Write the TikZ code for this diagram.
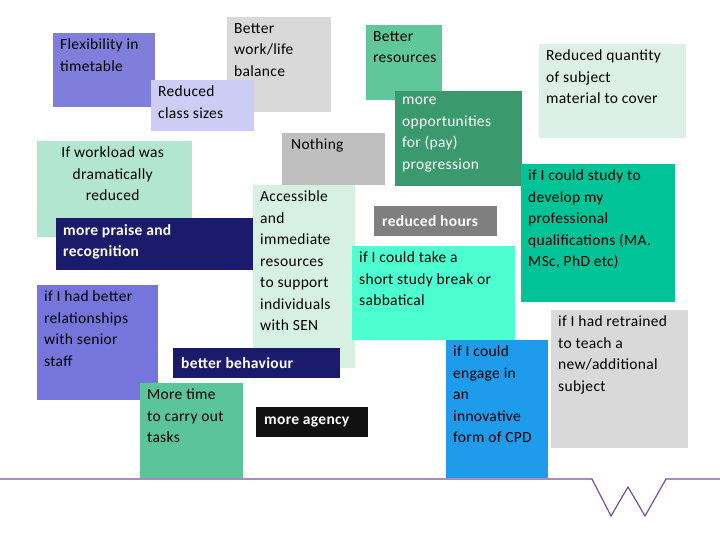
\documentclass[tikz,border=0pt]{standalone}
\usepackage{fontspec}
\setmainfont{Carlito}[LetterSpace=2]
\usetikzlibrary{positioning}

\definecolor{flexcol}{HTML}{7F7FDB}
\definecolor{lightgray}{HTML}{D9D9D9}
\definecolor{lavender}{HTML}{CCCCF5}
\definecolor{midgreen}{HTML}{60C79B}
\definecolor{darkgreen}{HTML}{3A9A6E}
\definecolor{palemint}{HTML}{DDF0E8}
\definecolor{nothinggray}{HTML}{BFBFBF}
\definecolor{mint}{HTML}{B3E6D0}
\definecolor{senmint}{HTML}{D6F0E4}
\definecolor{hoursgray}{HTML}{7F7F7F}
\definecolor{teal}{HTML}{00C497}
\definecolor{navy}{HTML}{1B1B6B}
\definecolor{aqua}{HTML}{4DFFD0}
\definecolor{seniorcol}{HTML}{7575DB}
\definecolor{timegreen}{HTML}{5CC49A}
\definecolor{nearblack}{HTML}{111111}
\definecolor{cpdblue}{HTML}{1E9BEA}
\definecolor{wline}{HTML}{7B4F9A}

\tikzset{
  card/.style={draw=none,inner sep=0pt,anchor=north west},
  cardtext/.style={inner sep=0pt,anchor=north west,align=left,
    font=\fontsize{15.5}{21.5}\selectfont},
}
% \card{name}{x}{y}{w}{h}{fill}{text colour}{text}
\newcommand\card[8]{%
  \node[card,fill=#6,minimum width=#4pt,minimum height=#5pt] (#1) at (#2,#3) {};
  \node[cardtext,text=#7] (#1-t) at ([xshift=7pt,yshift=-6pt]#1.north west) {#8};
}
% tarjeta fina con una sola linea en negrita
\newcommand\slim[7]{%
  \node[card,fill=#6,minimum width=#4pt,minimum height=#5pt] (#1) at (#2,#3) {};
  \node[cardtext,anchor=west,text=#7,font=\fontsize{15.5}{21.5}\selectfont\bfseries] (#1-t) at ([xshift=7pt]#1.west) {#1-label};
}

\begin{document}
\begin{tikzpicture}[x=1pt,y=-1pt]
    \useasboundingbox (0,0) rectangle (720,540);
    %las tarjetas, en el orden en que se tapan
    \card{flex}{53}{33}{102}{74}{flexcol}{black}{Flexibility in\\timetable}
    \card{balance}{227}{17}{104}{95}{lightgray}{black}{Better\\work/life\\balance}
    \card{classes}{151}{80}{103}{51}{lavender}{black}{Reduced\\class sizes}
    \card{resources}{366}{25}{76}{75}{midgreen}{black}{Better\\resources}
    \card{progress}{395}{91}{127}{95}{darkgreen}{white}{more\\opportunities\\for (pay)\\progression}
    \card{quantity}{539}{44}{147}{94}{palemint}{black}{Reduced quantity\\of subject\\material to cover}
    \card{nothing}{282}{133}{103}{52}{nothinggray}{black}{\hspace{2pt}Nothing}
    \node[card,fill=mint,minimum width=155pt,minimum height=96pt] (workload) at (37,141) {};
    \node[cardtext,align=center,anchor=north] (workload-t) at ([xshift=-2pt,yshift=-6pt]workload.north) {If workload was\\dramatically\\reduced};
    \card{sen}{253}{185}{102}{183}{senmint}{black}{Accessible\\and\\immediate\\resources\\to support\\individuals\\with SEN}
    \node[card,fill=hoursgray,minimum width=123pt,minimum height=30pt] (hours) at (374,206) {};
    \node[cardtext,anchor=west,text=white,font=\fontsize{15.5}{21.5}\selectfont\bfseries] (hours-t) at ([xshift=8pt]hours.west) {reduced hours};
    \card{study}{521}{164}{154}{138}{teal}{black}{if I could study to\\develop my\\professional\\qualifications (MA.\\MSc, PhD etc)}
    \node[card,fill=navy,minimum width=197pt,minimum height=52pt] (praise) at (56,218) {};
    \node[cardtext,text=white,font=\fontsize{15.5}{21.5}\selectfont\bfseries] (praise-t) at ([xshift=7pt,yshift=-6pt]praise.north west) {more praise and\\recognition};
    \card{break}{352}{246}{163}{94}{aqua}{black}{if I could take a\\short study break or\\sabbatical}
    \card{senior}{37}{285}{121}{115}{seniorcol}{black}{if I had better\\relationships\\with senior\\staff}
    \node[card,fill=navy,minimum width=167pt,minimum height=30pt] (behaviour) at (173,348) {};
    \node[cardtext,anchor=west,text=white,font=\fontsize{15.5}{21.5}\selectfont\bfseries] (behaviour-t) at ([xshift=8pt]behaviour.west) {better behaviour};
    \card{time}{140}{383}{103}{95}{timegreen}{black}{More time\\to carry out\\tasks}
    \node[card,fill=nearblack,minimum width=112pt,minimum height=30pt] (agency) at (256,407) {};
    \node[cardtext,anchor=west,text=white,font=\fontsize{15.5}{21.5}\selectfont\bfseries] (agency-t) at ([xshift=8pt]agency.west) {more agency};
    \card{cpd}{446}{340}{102}{138}{cpdblue}{black}{if I could\\engage in\\an\\innovative\\form of CPD}
    \card{retrain}{551}{310}{137}{138}{lightgray}{black}{if I had retrained\\to teach a\\new/additional\\subject}
    %la linea de abajo con la W
    \coordinate (wl) at (0,479);
    \coordinate (wr) at (720,479);
    \draw[line width=1.2pt,color=wline,line join=miter]
      (wl) -- (592,479) -- (611,516) -- (628,487) -- (645,516) -- (666,479) -- (wr);
\end{tikzpicture}
\end{document}
